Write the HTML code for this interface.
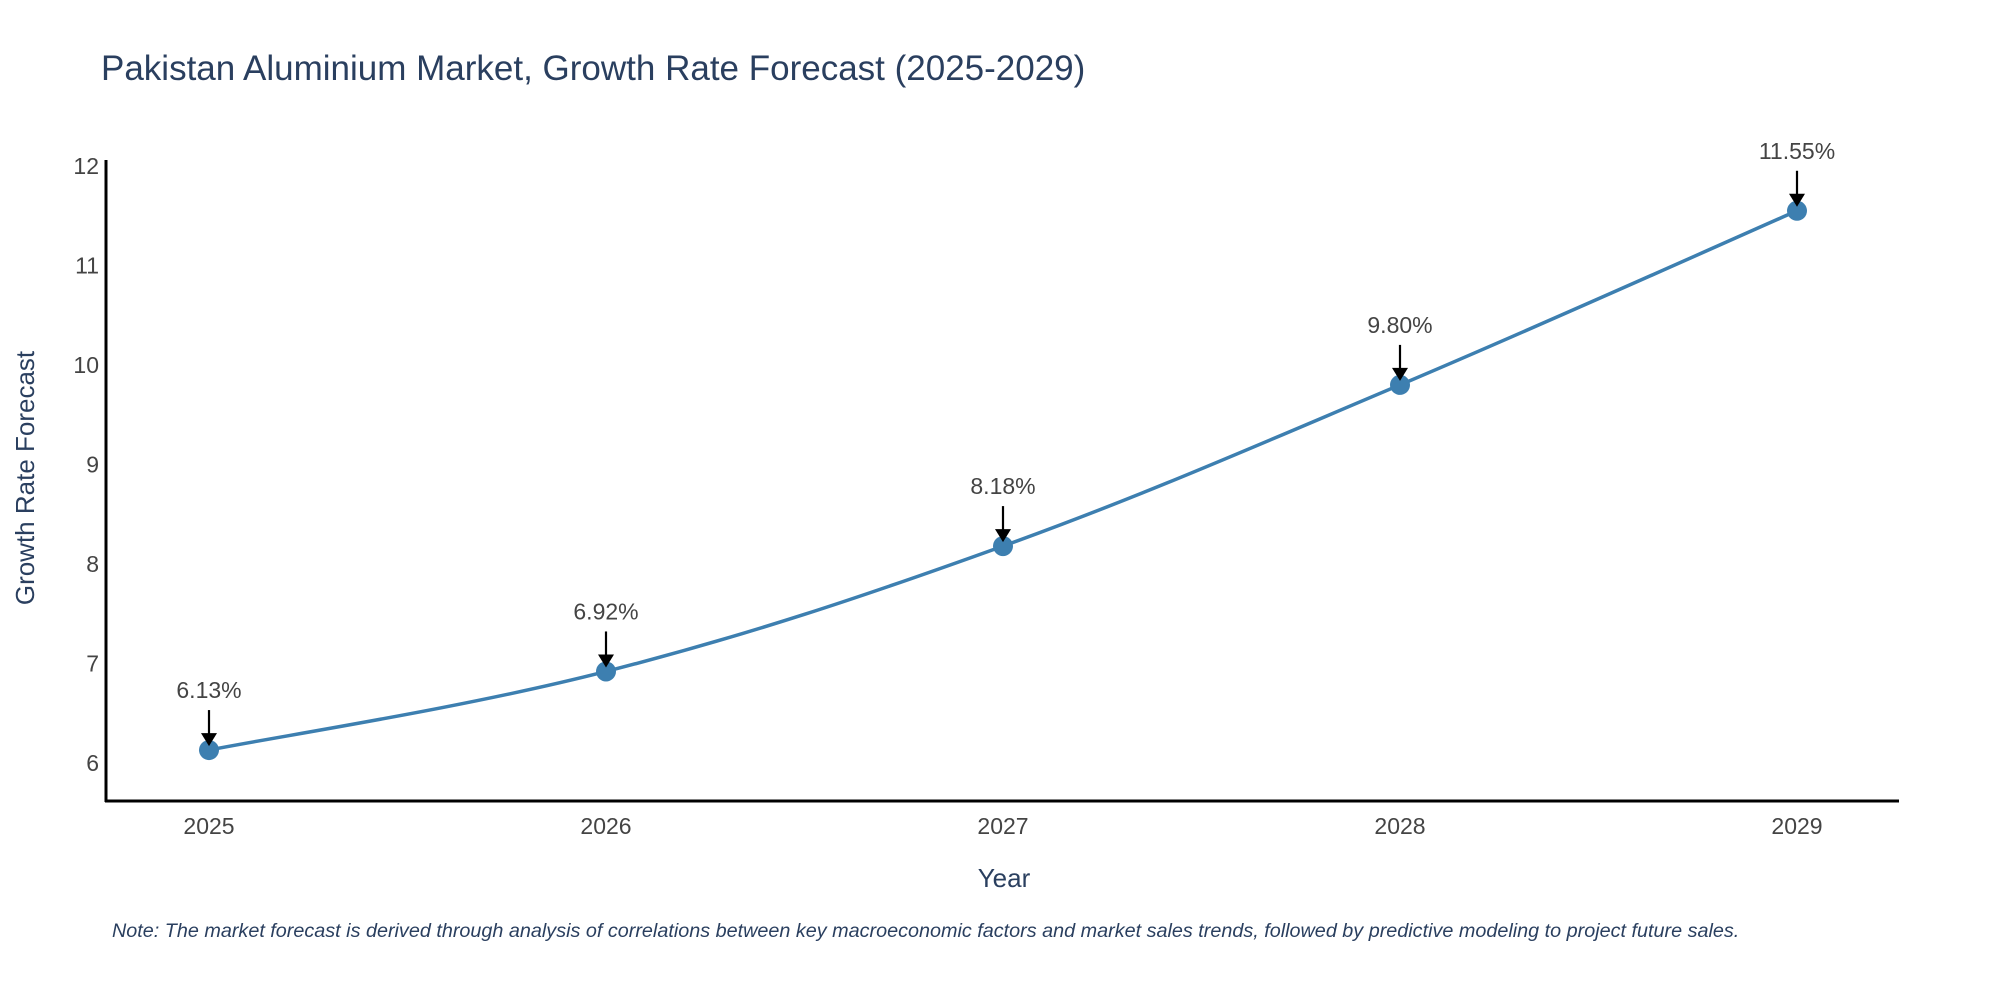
<!DOCTYPE html>
<html><head><meta charset="utf-8"><style>
body{margin:0;background:#fff;}
svg text{font-family:"Liberation Sans",sans-serif;}
</style></head><body>
<svg width="2000" height="1000" xmlns="http://www.w3.org/2000/svg">
<rect width="2000" height="1000" fill="#fff"/>
<text x="101" y="80" font-size="35" fill="#2a3f5f">Pakistan Aluminium Market, Growth Rate Forecast (2025-2029)</text>
<g id="plot"></g>
<line x1="106" y1="160" x2="106" y2="802" stroke="#000" stroke-width="3"/>
<line x1="105" y1="801" x2="1899" y2="801" stroke="#000" stroke-width="3"/>
<text x="1004" y="887" font-size="26" fill="#2a3f5f" text-anchor="middle">Year</text>
<text transform="translate(34,478) rotate(-90)" font-size="26" fill="#2a3f5f" text-anchor="middle">Growth Rate Forecast</text>
<text x="112" y="937" font-size="19.8" font-style="italic" fill="#2a3f5f">Note: The market forecast is derived through analysis of correlations between key macroeconomic factors and market sales trends, followed by predictive modeling to project future sales.</text>
</svg>
<script>
const years=[2025,2026,2027,2028,2029];
const values=[6.13,6.92,8.18,9.80,11.55];
const labels=["6.13%","6.92%","8.18%","9.80%","11.55%"];
const yTicks=[6,7,8,9,10,11,12];
const NS="http://www.w3.org/2000/svg";
const g=document.getElementById('plot');
function xs(v){return 209+(v-2025)*397;}
function ys(v){return 763-(v-6)*99.5;}
function mk(t,a){const e=document.createElementNS(NS,t);for(const k in a)e.setAttribute(k,a[k]);g.appendChild(e);return e;}
yTicks.forEach(t=>{const e=mk('text',{x:99,y:ys(t)+8,'font-size':23,fill:'#444','text-anchor':'end'});


e.textContent=t;});
years.forEach(t=>{const e=mk('text',{x:xs(t),y:834,'font-size':23,fill:'#444','text-anchor':'middle'});


e.textContent=t;});
const P=years.map((y,i)=>[xs(y),ys(values[i])]);
let d='M'+P[0][0]+','+P[0][1];
for(let i=0;i<P.length-1;i++){const p0=P[i-1]||P[i],p1=P[i],p2=P[i+1],p3=P[i+2]||P[i+1];const s=0.18;
d+=' C'+(p1[0]+(p2[0]-p0[0])*s)+','+(p1[1]+(p2[1]-p0[1])*s)+' '+(p2[0]-(p3[0]-p1[0])*s)+','+(p2[1]-(p3[1]-p1[1])*s)+' '+p2[0]+','+p2[1];}
const line=mk('path',{d:d,fill:'none',stroke:'#3d7fb0','stroke-width':3.5});


P.forEach((p,i)=>{const c=mk('circle',{cx:p[0],cy:p[1],r:10,fill:'#3d7fb0'});


const a=mk('line',{x1:p[0],y1:p[1]-40,x2:p[0],y2:p[1]-14,stroke:'#000','stroke-width':2.2});


const h=mk('polygon',{points:(p[0]-8)+','+(p[1]-17)+' '+(p[0]+8)+','+(p[1]-17)+' '+p[0]+','+(p[1]-4),fill:'#000'});


const t=mk('text',{x:p[0],y:p[1]-52,'font-size':23,fill:'#444','text-anchor':'middle'});


t.textContent=labels[i];});
</script>
</body></html>
